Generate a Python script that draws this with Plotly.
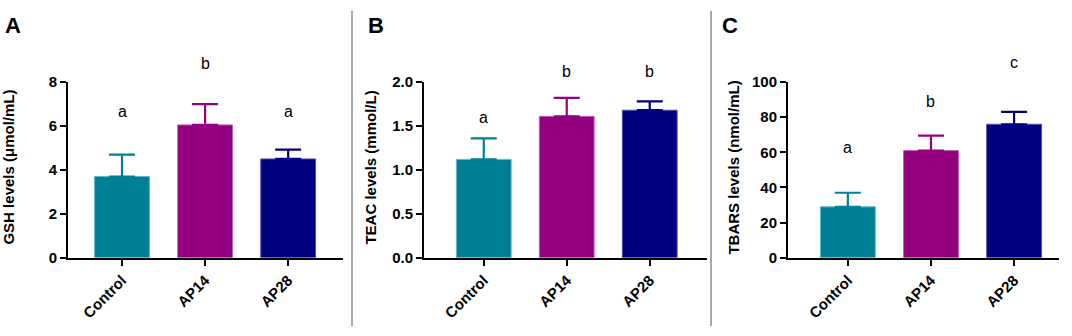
import plotly.graph_objects as go

categories = ["Control", "AP14", "AP28"]
colors = ["#007F95", "#93007F", "#000080"]
edge_colors = ["#5FB8C8", "#C060B0", "#5050B0"]

gsh_values = [3.7, 6.05, 4.5]
gsh_err = [1.0, 0.95, 0.42]
gsh_letters = ["a", "b", "a"]
gsh_letter_y = [6.66, 8.87, 6.66]

teac_values = [1.12, 1.61, 1.68]
teac_err = [0.24, 0.21, 0.10]
teac_letters = ["a", "b", "b"]
teac_letter_y = [1.60, 2.12, 2.12]

tbars_values = [29, 61, 76]
tbars_err = [8, 8.5, 7]
tbars_letters = ["a", "b", "c"]
tbars_letter_y = [62.7, 89, 111]

W, H = 1072, 336
FONT = "Liberation Sans, Arial, sans-serif"

panels = [
    dict(vals=gsh_values, err=gsh_err, letters=gsh_letters, ly=gsh_letter_y,
         yr=[0, 8], dtick=2, fmt="", title="GSH levels (μmol/mL)",
         xpix=(68, 343), xr=[-0.65, 2.66], label="A", labx=3, titlex=9),
    dict(vals=teac_values, err=teac_err, letters=teac_letters, ly=teac_letter_y,
         yr=[0, 2], dtick=0.5, fmt=".1f", title="TEAC levels (mmol/L)",
         xpix=(424, 707), xr=[-0.72, 2.69], label="B", labx=366, titlex=371),
    dict(vals=tbars_values, err=tbars_err, letters=tbars_letters, ly=tbars_letter_y,
         yr=[0, 100], dtick=20, fmt="", title="TBARS levels (nmol/mL)",
         xpix=(788, 1059), xr=[-0.72, 2.54], label="C", labx=720, titlex=734),
]

ytop, ybot = 77, 262
ydom = [(H - ybot) / H, (H - ytop) / H]

fig = go.Figure()
annotations = []
layout = {}
for i, p in enumerate(panels):
    n = "" if i == 0 else str(i + 1)
    xa, ya = "x" + n, "y" + n
    fig.add_trace(go.Bar(
        x=categories, y=p["vals"], xaxis=xa, yaxis=ya,
        marker=dict(color=colors, line=dict(color=edge_colors, width=1)),
        width=0.66, showlegend=False,
    ))
    for j, c in enumerate(categories):
        fig.add_trace(go.Scatter(
            x=[c], y=[p["vals"][j]], xaxis=xa, yaxis=ya, mode="markers",
            marker=dict(size=0.1, color=colors[j], opacity=0),
            error_y=dict(type="data", array=[p["err"][j]], arrayminus=[0], symmetric=False,
                         color=colors[j], thickness=2.2, width=13),
            showlegend=False, hoverinfo="skip",
        ))
        ypaper = ydom[0] + p["ly"][j] / p["yr"][1] * (ydom[1] - ydom[0])
        annotations.append(dict(
            x=c, y=ypaper, xref=xa, yref="paper", text=p["letters"][j], showarrow=False,
            font=dict(family=FONT, size=16, color="black"), yanchor="middle",
        ))
    layout["xaxis" + n] = dict(
        domain=[p["xpix"][0] / W, p["xpix"][1] / W], range=p["xr"], anchor=ya,
        showline=True, linecolor="black", linewidth=2, ticks="outside", ticklen=6,
        tickwidth=2, tickcolor="black", tickangle=-45,
        tickfont=dict(family=FONT, size=15, color="black", weight="bold"),
        showgrid=False, zeroline=False, fixedrange=True,
    )
    layout["yaxis" + n] = dict(
        domain=ydom, range=p["yr"], anchor=xa, dtick=p["dtick"], tick0=0,
        tickformat=p["fmt"], showline=True, linecolor="black", linewidth=2,
        ticks="outside", ticklen=6, tickwidth=2, tickcolor="black",
        tickfont=dict(family=FONT, size=15, color="black", weight="bold"),
        showgrid=False, zeroline=False, fixedrange=True,
    )
    annotations.append(dict(
        x=p["titlex"] / W, y=(H - 167) / H, xref="paper", yref="paper", text=p["title"],
        textangle=-90, showarrow=False, xanchor="center", yanchor="middle",
        font=dict(family=FONT, size=15, color="black", weight="bold"),
    ))
    annotations.append(dict(
        x=p["labx"] / W, y=(H - 2) / H, xref="paper", yref="paper", text=p["label"],
        showarrow=False, xanchor="left", yanchor="top",
        font=dict(family=FONT, size=22, color="black", weight="bold"),
    ))

shapes = [
    dict(type="line", xref="paper", yref="paper", x0=352 / W, x1=352 / W,
         y0=(H - 334) / H, y1=(H - 2) / H, line=dict(color="#8C8C8C", width=1.5)),
    dict(type="line", xref="paper", yref="paper", x0=711 / W, x1=711 / W,
         y0=(H - 334) / H, y1=(H - 2) / H, line=dict(color="#8C8C8C", width=1.5)),
]

fig.update_layout(
    width=W, height=H, margin=dict(l=0, r=0, t=0, b=0),
    paper_bgcolor="white", plot_bgcolor="white",
    annotations=annotations, shapes=shapes,
    **layout,
)
fig.write_html(
    "out.html",
    config={"displayModeBar": False},
    post_script="document.body.style.margin='0';document.body.style.overflow='hidden';",
)
